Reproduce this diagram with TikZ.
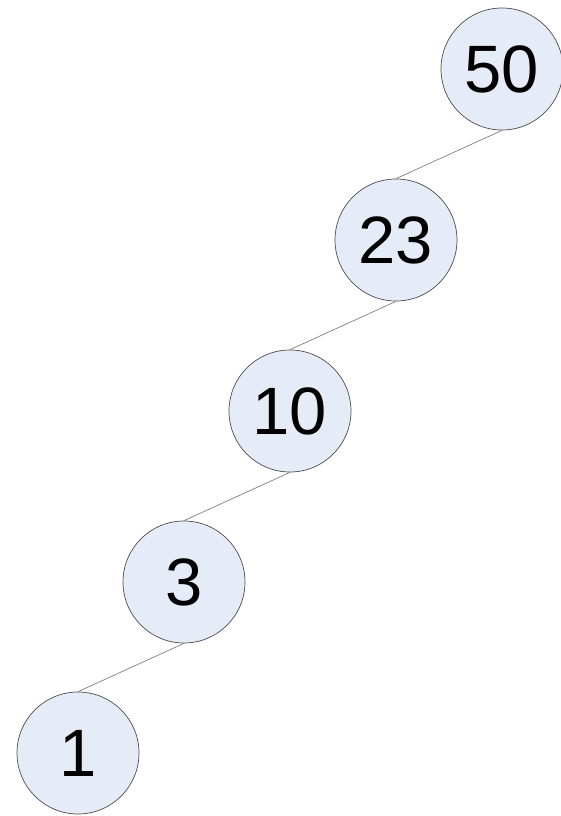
\documentclass[tikz,border=0pt]{standalone}
\usepackage{fontspec}
\setmainfont{Liberation Sans}
\usepackage{tikz}
\usetikzlibrary{positioning}

\definecolor{keyfill}{HTML}{E6ECF7}

\begin{document}
\begin{tikzpicture}[
    key/.style={circle, draw=gray!60!black, fill=keyfill, line width=0.7pt, minimum size=122pt, inner sep=0pt, font=\fontsize{67}{67}\selectfont},
    link/.style={draw=gray, line width=0.7pt},
    node distance=171pt and 106pt, on grid
]
    \useasboundingbox (0,0) rectangle (561pt,-816pt);

    \node[key] (k50) at (502pt,-69pt) {50};
    \node[key, below left=of k50] (k23) {23};
    \node[key, below left=of k23] (k10) {10};
    \node[key, below left=of k10] (k3)  {3};
    \node[key, below left=of k3]  (k1)  {1};

    \draw[link] (k50.south) -- (k23.north);
    \draw[link] (k23.south) -- (k10.north);
    \draw[link] (k10.south) -- (k3.north);
    \draw[link] (k3.south) -- (k1.north);
\end{tikzpicture}
\end{document}
